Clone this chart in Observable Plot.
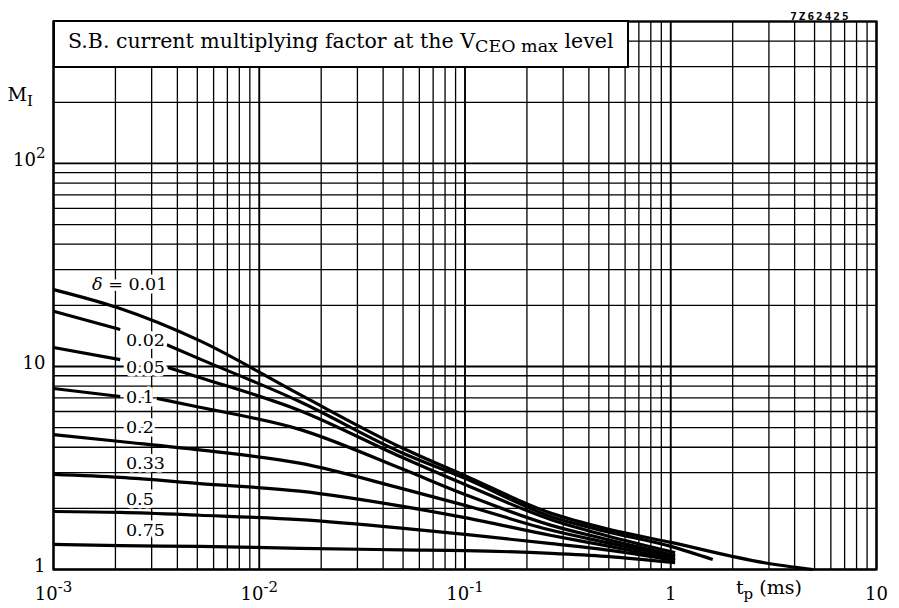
<!DOCTYPE html>
<html>
<head>
<meta charset="utf-8">
<script src="https://cdn.jsdelivr.net/npm/d3@7"></script>
<script src="https://cdn.jsdelivr.net/npm/@observablehq/plot@0.6"></script>
<style>
  html, body { margin: 0; padding: 0; background: white; }
  #wrap { position: relative; width: 899px; height: 608px; overflow: hidden; }
  #wrap svg { position: absolute; left: 0; top: 0; }
  #title {
    position: absolute; left: 53px; top: 20px; width: 576px; height: 48px;
    box-sizing: border-box; border: 2px solid black; background: white;
    font-family: 'DejaVu Serif', serif; font-size: 20.5px; line-height: 20px; color: black;
    padding: 9px 0 0 13px; white-space: nowrap;
  }
  #title .sub { font-size: 17.5px; position: relative; top: 4px; }
</style>
</head>
<body>
<div id="wrap">
  <div id="title">S.B. current multiplying factor at the V<span class="sub">CEO max</span> level</div>
</div>
<script>
// ---- Curve data (t_p in ms, M_I), null = gap where a label sits ----
const deltas = ["0.01", "0.02", "0.05", "0.1", "0.2", "0.33", "0.5", "0.75"];

const t_001 = [0.001, 0.00204, 0.00513, 0.0157, 0.049, 0.1, 0.263, 0.484, 1.0, 2.85, 4.9];
const M_001 = [23.9, 19.5, 13.4, 7.28, 3.99, 2.90, 1.89, 1.59, 1.36, 1.08, 1.0];

const t_002 = [0.001, 0.00211, null, 0.00355, 0.00513, 0.0157, 0.049, 0.1, 0.263, 0.484, 1.0, 1.6];
const M_002 = [18.7, 15.2, null, 12.8, 10.9, 6.72, 3.77, 2.81, 1.82, 1.54, 1.30, 1.12];

const t_005 = [0.001, 0.00211, null, 0.0036, 0.00513, 0.0157, 0.049, 0.1, 0.263, 0.484, 1.05];
const M_005 = [12.4, 10.8, null, 9.89, 8.83, 6.07, 3.58, 2.62, 1.76, 1.47, 1.21];

const t_01 = [0.001, 0.00211, null, 0.00318, 0.00513, 0.0157, 0.049, 0.1, 0.263, 0.484, 1.05];
const M_01 = [7.79, 7.11, null, 6.96, 6.30, 4.90, 3.14, 2.34, 1.65, 1.41, 1.17];

const t_02 = [0.001, 0.00211, 0.00513, 0.0157, 0.049, 0.1, 0.263, 0.484, 1.05];
const M_02 = [4.62, 4.27, 3.88, 3.34, 2.51, 2.07, 1.56, 1.36, 1.15];

const t_033 = [0.001, 0.00211, 0.00513, 0.0157, 0.049, 0.1, 0.263, 0.484, 1.05];
const M_033 = [2.94, 2.84, 2.65, 2.43, 2.05, 1.80, 1.47, 1.31, 1.12];

const t_05 = [0.001, 0.00211, 0.00513, 0.0157, 0.049, 0.1, 0.263, 0.484, 1.05];
const M_05 = [1.93, 1.91, 1.85, 1.76, 1.60, 1.49, 1.34, 1.25, 1.11];

const t_075 = [0.001, 0.00211, 0.00513, 0.0157, 0.049, 0.1, 0.263, 0.484, 1.05];
const M_075 = [1.33, 1.31, 1.30, 1.27, 1.25, 1.24, 1.20, 1.16, 1.08];

// ---- Curve labels ----
const labelText = ["δ = 0.01", "0.02", "0.05", "0.1", "0.2", "0.33", "0.5", "0.75"];
const labelT = [0.00154, 0.00225, 0.00225, 0.00225, 0.00225, 0.00225, 0.00225, 0.00225];
const labelM = [25.3, 13.4, 9.89, 7.04, 5.0, 3.33, 2.21, 1.56];

// ---- Axis ticks ----
const xTickValues = [0.001, 0.01, 0.1, 1, 10];
const xTickLabels = ["10^{-3}", "10^{-2}", "10^{-1}", "1", "10"];
const yTickValues = [1, 10, 100];
const yTickLabels = ["1", "10", "10^{2}"];
const xTitle = "t_{p} (ms)";
const yTitle = "M_{I}";
const figCode = "7Z62425";

// ---- Log grid (1..9 per decade) ----
const xGridMinor = [], xGridMajor = [0.001, 0.01, 0.1, 1, 10];
for (const e of [-3, -2, -1, 0]) for (let k = 2; k <= 9; k++) xGridMinor.push(+(k + "e" + e));
const yGridMajor = [1, 10, 100];
const yGridMinor = [];
for (const e of [0, 1]) for (let k = 2; k <= 9; k++) yGridMinor.push(+(k + "e" + e));
for (let k = 2; k <= 5; k++) yGridMinor.push(k * 100);

// ---- Build table ----
const series = [[t_001, M_001], [t_002, M_002], [t_005, M_005], [t_01, M_01],
                [t_02, M_02], [t_033, M_033], [t_05, M_05], [t_075, M_075]];
const rows = [];
series.forEach(([ts, ms], i) => ts.forEach((t, j) => rows.push({delta: deltas[i], t, M: ms[j]})));
const labels = labelText.map((s, i) => ({text: s, t: labelT[i], M: labelM[i]}));

const chart = Plot.plot({
  width: 899, height: 608,
  marginLeft: 53, marginRight: 23, marginTop: 21, marginBottom: 39,
  x: {type: "log", domain: [1e-3, 10]},
  y: {type: "log", domain: [1, 500]},
  style: {fontFamily: "'DejaVu Serif', serif", fontSize: "18px", background: "white", color: "black"},
  marks: [
    Plot.ruleX(xGridMinor, {stroke: "black", strokeWidth: 1.3}),
    Plot.ruleX(xGridMajor, {stroke: "black", strokeWidth: 1.9}),
    Plot.ruleY(yGridMinor, {stroke: "black", strokeWidth: 1.3}),
    Plot.ruleY(yGridMajor, {stroke: "black", strokeWidth: 1.9}),
    Plot.line(rows, {x: "t", y: "M", z: "delta", stroke: "black", strokeWidth: 3.2, curve: "monotone-x", strokeLinecap: "butt"}),
    Plot.text(labels, {x: "t", y: "M", text: "text", textAnchor: "start", fill: "black",
                       stroke: "white", strokeWidth: 7, paintOrder: "stroke", fontSize: 17.5}),
    Plot.frame({stroke: "black", strokeWidth: 2.2}),
    Plot.axisX(xTickValues, {tickSize: 0, tickPadding: 18, label: null,
      tickFormat: d => xTickLabels[xTickValues.indexOf(d)]}),
    Plot.axisY(yTickValues, {tickSize: 0, tickPadding: 8, label: null, dy: -3,
      tickFormat: d => yTickLabels[yTickValues.indexOf(d)]}),
    Plot.text([xTitle], {x: [3], text: d => d, frameAnchor: "bottom", dy: 24, textAnchor: "middle", fontSize: 19}),
    Plot.text([yTitle], {text: d => d, frameAnchor: "top-left", dx: -46, dy: 66, textAnchor: "start", fontSize: 19}),
    Plot.text([figCode], {text: d => d, frameAnchor: "top-right", dx: -26, dy: -9, textAnchor: "end",
      fontFamily: "'DejaVu Sans Mono', monospace", fontWeight: "bold", fontSize: 11})
  ]
});

// ---- rich text: ^{sup} and _{sub} ----
const NS = "http://www.w3.org/2000/svg";
chart.querySelectorAll("text").forEach(el => {
  const s = el.textContent;
  if (!/[_^]\{/.test(s)) return;
  while (el.firstChild) el.removeChild(el.firstChild);
  const re = /([_^])\{([^}]*)\}/g;
  let last = 0, m, shift = 0;
  const add = (txt, dy, size) => {
    if (!txt) return;
    const ts = document.createElementNS(NS, "tspan");
    ts.textContent = txt;
    if (dy) ts.setAttribute("dy", dy);
    if (size) ts.setAttribute("font-size", size);
    el.appendChild(ts);
  };
  while ((m = re.exec(s))) {
    add(s.slice(last, m.index), shift ? -shift : 0);
    const d = m[1] === "^" ? -8 : 5;
    add(m[2], d, "15px");
    shift = d;
    last = re.lastIndex;
  }
  add(s.slice(last), shift ? -shift : 0);
});

chart.querySelectorAll("text").forEach(el => {
  if (el.textContent === "δ = 0.01") {
    el.textContent = "";
    const a = document.createElementNS(NS, "tspan");
    a.textContent = "δ"; a.setAttribute("font-style", "italic");
    const b = document.createElementNS(NS, "tspan");
    b.textContent = " = 0.01";
    el.appendChild(a); el.appendChild(b);
  }
  if (el.textContent === figCode) el.setAttribute("letter-spacing", "2");
});

document.getElementById("wrap").insertBefore(chart, document.getElementById("title"));
</script>
</body>
</html>
